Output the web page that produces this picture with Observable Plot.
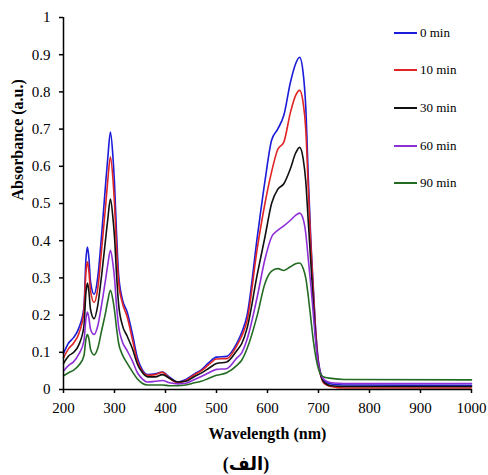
<!DOCTYPE html>
<html><head><meta charset="utf-8">
<script src="https://cdn.jsdelivr.net/npm/d3@7"></script>
<script src="https://cdn.jsdelivr.net/npm/@observablehq/plot@0.6"></script>
<style>
body{margin:0;background:#fff;}
#wrap{position:relative;width:488px;height:475px;font-family:"Liberation Serif","Times New Roman",serif;color:#000;}
#wrap svg{display:block;}
#wrap svg text{font-family:"Liberation Serif","Times New Roman",serif;}
.legline{position:absolute;height:2px;width:23px;left:394px;}
.legtxt{position:absolute;left:420px;font-size:13px;line-height:14px;white-space:nowrap;}
#cap{text-align:center;font-weight:bold;font-size:18px;line-height:24px;padding-top:4px;width:492px;font-family:"Liberation Serif","DejaVu Sans",serif;}
</style></head><body><div id="wrap"></div>
<script>
const wavelength = [200,210,220,230,240,244,247,250,253,260,267,275,283,287,292,297,300,304,308,315,325,335,345,355,365,380,394,408,424,440,457,470,485,500,520,540,550,560,580,595,608,620,632,645,655,663,670,675,680,685,690,695,700,705,712,725,750,1000];
const seriesNames = ["0 min","10 min","30 min","60 min","90 min"];
const seriesColors = ["#1b1bd8","#e02424","#111111","#8e2fd6","#236b23"];
const abs0 = [.097,.125,.14,.165,.22,.35,.383,.35,.29,.256,.3,.42,.56,.625,.692,.625,.555,.42,.31,.245,.208,.15,.085,.052,.04, .042,.047,.033,.02,.027,.042,.053,.072,.087,.089, .125,.155,.2,.41,.56,.67,.70,.737,.826,.875, .893,.85,.76,.57,.4,.27,.15,.075,.04,.022, .015,.012,.011];
const abs10 = [.085,.11,.125,.15,.21,.315,.343,.315,.265,.234,.27,.38,.5,.565,.625,.565,.5,.38,.29,.235,.195,.135,.075,.048,.038, .04,.046,.03,.018,.024,.04,.05,.067,.082,.083, .118,.145,.185,.38,.5,.585,.645,.665,.745,.79, .804,.77,.7,.54,.385,.26,.145,.07,.035,.015, .008,.004,.004];
const abs30 = [.07,.09,.1,.12,.17,.26,.286,.26,.215,.19,.225,.31,.41,.46,.512,.46,.41,.31,.23,.175,.143,.11,.068,.045,.034, .034,.04,.03,.02,.022,.035,.044,.057,.07,.074, .105,.125,.165,.31,.41,.5,.538,.553,.594,.635, .651,.62,.56,.45,.34,.23,.13,.065,.035,.018, .01,.008,.008];
const abs60 = [.05,.065,.075,.095,.13,.19,.208,.19,.162,.148,.17,.23,.3,.337,.374,.337,.3,.225,.17,.13,.104,.077,.045,.028,.02, .022,.024,.018,.015,.017,.027,.035,.045,.054,.056, .085,.1,.135,.25,.35,.41,.428,.44,.455,.468, .474,.458,.42,.35,.28,.2,.12,.065,.04,.025, .018,.016,.016];
const abs90 = [.037,.045,.052,.065,.09,.135,.148,.135,.108,.093,.11,.16,.21,.24,.267,.24,.213,.165,.125,.095,.07,.048,.028,.016,.012, .012,.012,.01,.01,.012,.018,.022,.03,.038,.045, .065,.08,.11,.2,.285,.318,.325,.32,.33,.338, .34,.325,.3,.25,.19,.13,.085,.055,.04,.033, .03,.027,.026];
const xTicks = [200,300,400,500,600,700,800,900,1000];
const yTicks = [0,0.1,0.2,0.3,0.4,0.5,0.6,0.7,0.8,0.9,1];
const xLabel = "Wavelength (nm)";
const yLabel = "Absorbance (a.u.)";
const caption = "(الف)";

const values = [abs0, abs10, abs30, abs60, abs90];
const rows = seriesNames.flatMap((s, i) => wavelength.map((w, j) => ({series: s, wl: w, a: values[i][j]})));

const chart = Plot.plot({
  width: 488, height: 448,
  marginLeft: 63, marginRight: 17, marginTop: 17, marginBottom: 59,
  style: {fontFamily: "Liberation Serif, Times New Roman, serif", fontSize: "15px", color: "#000", background: "#fff"},
  x: {domain: [200, 1000]},
  y: {domain: [0, 1]},
  color: {domain: seriesNames, range: seriesColors},
  marks: [
    Plot.line(rows, {x: "wl", y: "a", z: "series", stroke: "series", curve: "monotone-x", strokeWidth: 1.6}),
    Plot.ruleX([200], {stroke: "#000", strokeWidth: 1.5}),
    Plot.ruleY([0], {stroke: "#000", strokeWidth: 1.5}),
    Plot.axisX({ticks: xTicks, tickSize: 4, tickPadding: 9, label: null, fontSize: 15, strokeWidth: 1.5, tickFormat: d => String(d)}),
    Plot.axisY({ticks: yTicks, tickSize: 4, tickPadding: 9, label: null, fontSize: 15, strokeWidth: 1.5, tickFormat: d => String(+d.toFixed(1))}),
    Plot.text([xLabel], {frameAnchor: "bottom", dy: 44, lineAnchor: "middle", fontWeight: "bold", fontSize: 16}),
    Plot.text([yLabel], {frameAnchor: "left", dx: -46, dy: -3, rotate: -90, lineAnchor: "middle", fontWeight: "bold", fontSize: 16})
  ]
});
const wrap = document.getElementById("wrap");
wrap.appendChild(chart);

seriesNames.forEach((s, i) => {
  const cy = 32.5 + i * 37.7;
  const l = document.createElement("div");
  l.className = "legline";
  l.style.top = (cy - 1) + "px";
  l.style.background = seriesColors[i];
  wrap.appendChild(l);
  const t = document.createElement("div");
  t.className = "legtxt";
  t.style.top = (cy - 7) + "px";
  t.textContent = s;
  wrap.appendChild(t);
});

const cap = document.createElement("div");
cap.id = "cap";
cap.textContent = caption;
wrap.appendChild(cap);
</script>
</body></html>
